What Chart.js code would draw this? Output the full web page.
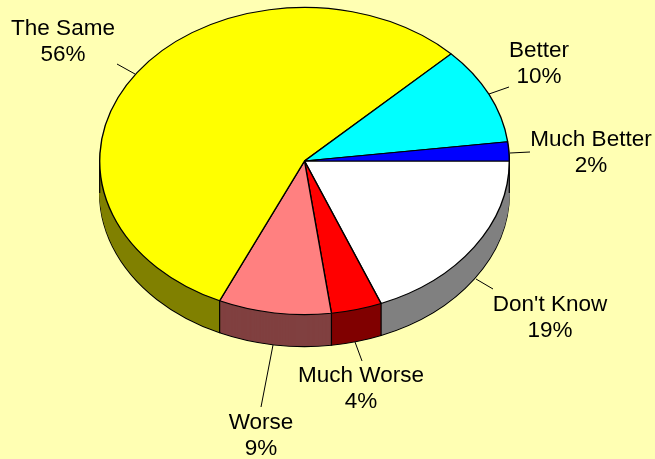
<!DOCTYPE html>
<html>
<head>
<meta charset="utf-8">
<title>Pie</title>
<script src="https://cdn.jsdelivr.net/npm/chart.js@4"></script>
<style>
  html, body { margin: 0; padding: 0; background: #FFFFB3; }
  canvas { display: block; }
</style>
</head>
<body>
<canvas id="pie" width="655" height="459"></canvas>
<script>
const categories = ["Don't Know", 'Much Worse', 'Worse', 'The Same', 'Better', 'Much Better'];
const percents = [18.9, 4, 8.9, 55.9, 10.3, 2];
const topColors = ['#FFFFFF', '#FF0000', '#FF8080', '#FFFF00', '#00FFFF', '#0000FF'];
const wallColors = ['#808080', '#800000', '#804040', '#808000', '#008080', '#000080'];

// where each label sits, and its leader line [x1, y1, x2, y2]
const labelSpots = [[550, 303], [361, 374], [261, 421], [63, 27], [539, 49], [591, 138]];
const leaders = [
    [493, 289, 476, 279],
    [362, 361, 355, 342],
    [261, 407, 273, 345],
    [117, 64, 135, 74],
    [509, 87, 489, 94],
    [530, 152, 510, 153]
];

// squash the round pie into an ellipse and give it a side wall
const centerY = 161;
const squash = 0.75;
const depth = 32;

const pie3d = {
    id: 'pie3d',
    beforeDatasetsDraw(chart) {
        const ctx = chart.ctx;
        const arcs = chart.getDatasetMeta(0).data;
        const y0 = arcs[0].y;
        const x0 = arcs[0].x;
        const r = arcs[0].outerRadius;

        ctx.save();
        ctx.translate(0, centerY);
        ctx.scale(1, squash);
        ctx.translate(0, -y0);

        // side wall, from the bottom layer up
        for (let d = depth; d > 0; d--) {
            ctx.save();
            ctx.translate(0, d / squash);
            arcs.forEach((arc, i) => {
                const keep = arc.options;
                arc.options = Object.assign({}, keep, {
                    backgroundColor: wallColors[i],
                    borderColor: d === depth ? '#000000' : wallColors[i],
                    borderWidth: d === depth ? 1.4 : 0.5
                });
                arc.draw(ctx);
                arc.options = keep;
            });
            ctx.restore();
        }

        // vertical edges of the wall
        const angles = arcs.map(a => a.startAngle).filter(a => Math.sin(a) > 0.01);
        angles.push(0, Math.PI);
        ctx.strokeStyle = '#000000';
        ctx.lineWidth = 1.2;
        angles.forEach(a => {
            const x = x0 + Math.cos(a) * r;
            const y = y0 + Math.sin(a) * r;
            ctx.beginPath();
            ctx.moveTo(x, y);
            ctx.lineTo(x, y + depth / squash);
            ctx.stroke();
        });
    },
    afterDatasetsDraw(chart) {
        chart.ctx.restore();
    },
    afterDraw(chart) {
        const ctx = chart.ctx;
        ctx.save();
        ctx.strokeStyle = '#000000';
        ctx.lineWidth = 1;
        leaders.forEach(l => {
            ctx.beginPath();
            ctx.moveTo(l[0], l[1]);
            ctx.lineTo(l[2], l[3]);
            ctx.stroke();
        });
        ctx.fillStyle = '#000000';
        ctx.font = '22.5px "Liberation Sans", Arial, sans-serif';
        ctx.textAlign = 'center';
        ctx.textBaseline = 'middle';
        categories.forEach((name, i) => {
            const s = labelSpots[i];
            ctx.fillText(name, s[0], s[1] + 1.7);
            ctx.fillText(Math.round(percents[i]) + '%', s[0], s[1] + 28);
        });
        ctx.restore();
    }
};

new Chart(document.getElementById('pie'), {
    type: 'pie',
    data: {
        labels: categories,
        datasets: [{
            data: percents,
            backgroundColor: topColors,
            borderColor: '#000000',
            borderWidth: 1.4,
            clip: false
        }]
    },
    options: {
        responsive: false,
        animation: false,
        rotation: 90,
        layout: { padding: { left: 99, right: 145, top: 0, bottom: 48 } },
        plugins: {
            legend: { display: false },
            tooltip: { enabled: false }
        }
    },
    plugins: [pie3d]
});
</script>
</body>
</html>
